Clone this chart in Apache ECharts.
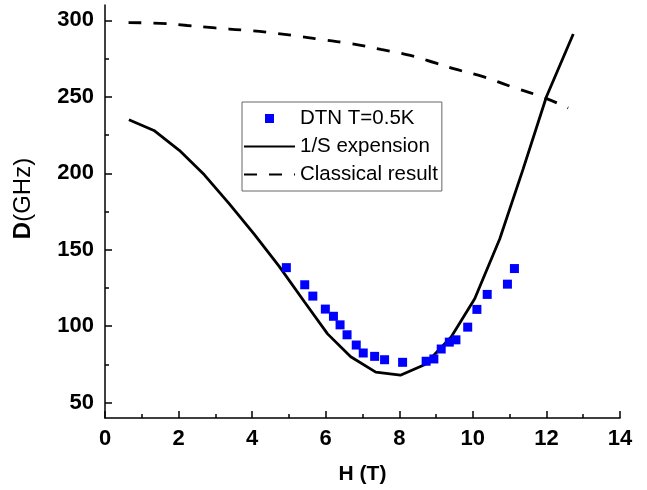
<!DOCTYPE html>
<html>
<head>
<meta charset="utf-8">
<title>D vs H</title>
<script src="https://cdn.jsdelivr.net/npm/echarts@6/dist/echarts.min.js"></script>
<style>
  html, body { margin: 0; padding: 0; background: #fff; }
  #chart { width: 647px; height: 490px; }
</style>
</head>
<body>
<div id="chart"></div>
<script>
// measured points, DTN at T=0.5K
const dtnH = [4.93, 5.43, 5.65, 5.99, 6.21, 6.39, 6.58, 6.83, 7.02, 7.33, 7.60, 8.09,
  8.73, 8.94, 9.14, 9.36, 9.54, 9.86, 10.11, 10.39, 10.94, 11.13]
const dtnD = [138.3, 127.1, 119.7, 111.2, 106.5, 100.9, 94.4, 87.7, 82.5, 80.3, 78.1, 76.4,
  77.1, 78.6, 85.1, 89.6, 91.1, 99.4, 111.0, 120.8, 127.5, 137.7]

// 1/S expansion
const spinH = [0.65, 1.33, 2.02, 2.70, 3.38, 4.06, 4.74, 5.42, 6.05, 6.68, 7.36, 8.03,
  8.70, 9.41, 10.05, 10.73, 11.37, 12.0, 12.73]
const spinD = [235, 228, 215, 199, 180, 160, 139, 116, 95, 80, 70, 68,
  75, 93, 118, 157, 203, 250, 291]

// classical result
const classH = [0.64, 1.5, 2.24, 3.0, 3.8, 4.5, 5.3, 6.0, 6.68, 7.5, 8.3, 9.0,
  9.5, 10.3, 11.0, 11.95, 12.59]
const classD = [298.5, 298, 296.6, 295, 293.5, 291.9, 289.5, 287, 284.8, 281, 277, 272,
  268.2, 263, 257, 249.3, 242.6]

const yLabels = [50, 100, 150, 200, 250, 300]
const yMinor = [75, 125, 175, 225, 275]

const zip = (xs, ys) => xs.map((x, i) => [x, ys[i]])

const chart = echarts.init(document.getElementById('chart'))

const axisFont = { fontFamily: 'Liberation Sans', fontWeight: 'bold', fontSize: 22, color: '#000' }
const noDot = { color: 'rgba(0,0,0,0)', borderWidth: 0 }

chart.setOption({
  animation: false,
  grid: { left: 105, right: 27, top: 5, bottom: 69 },
  legend: {
    orient: 'vertical',
    left: 242,
    top: 102,
    padding: [6, 4, 6, 1],
    itemWidth: 51,
    itemHeight: 9,
    itemGap: 7,
    borderColor: '#666',
    borderWidth: 1,
    textStyle: { fontFamily: 'Liberation Sans', fontSize: 20.5, color: '#000', lineHeight: 20 },
    data: [
      { name: 'DTN T=0.5K', icon: 'path://M0,0H10V10H0Z' },
      { name: '1/S expension', itemStyle: noDot },
      { name: 'Classical result', itemStyle: noDot }
    ]
  },
  xAxis: {
    type: 'value',
    min: 0,
    max: 14,
    interval: 2,
    name: 'H (T)',
    nameLocation: 'middle',
    nameGap: 46,
    nameTextStyle: { fontFamily: 'Liberation Sans', fontWeight: 'bold', fontSize: 21, color: '#000' },
    axisLine: { lineStyle: { color: '#000', width: 1.5 } },
    axisTick: { inside: true, length: 7, lineStyle: { color: '#000', width: 1.5 } },
    minorTick: { show: true, splitNumber: 2, length: 4, lineStyle: { color: '#000', width: 1.5 } },
    axisLabel: Object.assign({ margin: 10 }, axisFont),
    splitLine: { show: false }
  },
  yAxis: [
    {
      type: 'value',
      min: 40,
      max: 310,
      name: '{b|D}{n|(GHz)}',
      nameLocation: 'middle',
      nameGap: 70,
      nameTextStyle: {
        padding: [0, 0, 0, 26],
        rich: {
          b: { fontFamily: 'Liberation Sans', fontWeight: 'bold', fontSize: 24, color: '#000' },
          n: { fontFamily: 'Liberation Sans', fontSize: 24, color: '#000' }
        }
      },
      axisLine: { show: true, lineStyle: { color: '#000', width: 1.5 } },
      axisTick: { show: true, inside: true, length: 7, customValues: yLabels, lineStyle: { color: '#000', width: 1.5 } },
      axisLabel: Object.assign({ margin: 11, customValues: yLabels }, axisFont),
      splitLine: { show: false }
    },
    {
      // minor ticks only
      type: 'value',
      position: 'left',
      min: 40,
      max: 310,
      axisLine: { show: false },
      axisTick: { show: true, inside: true, length: 4, customValues: yMinor, lineStyle: { color: '#000', width: 1.5 } },
      axisLabel: { show: false },
      splitLine: { show: false }
    }
  ],
  series: [
    {
      name: 'DTN T=0.5K',
      type: 'scatter',
      symbol: 'rect',
      symbolSize: 9,
      itemStyle: { color: '#0000ff', opacity: 1 },
      data: zip(dtnH, dtnD),
      z: 3
    },
    {
      name: '1/S expension',
      type: 'line',
      symbol: 'none',
      lineStyle: { color: '#000', width: 2.8 },
      itemStyle: { color: '#000' },
      data: zip(spinH, spinD)
    },
    {
      name: 'Classical result',
      type: 'line',
      symbol: 'none',
      smooth: true,
      lineStyle: { color: '#000', width: 2.8, type: [13, 12] },
      itemStyle: { color: '#000' },
      data: zip(classH, classD)
    }
  ]
})
</script>
</body>
</html>
